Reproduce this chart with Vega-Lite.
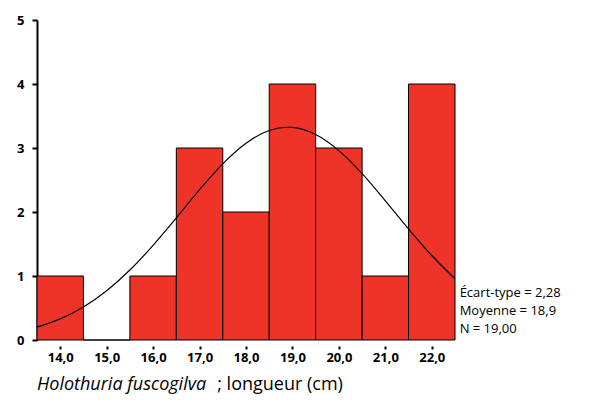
{
  "$schema": "https://vega.github.io/schema/vega-lite/v6.json",
  "width": 418,
  "height": 320,
  "autosize": "none",
  "padding": {"left": 37, "top": 20, "right": 138, "bottom": 63},
  "background": "white",
  "config": {"view": {"stroke": null}, "font": "Open Sans"},
  "datasets": {
    "bins": [
      {"start": 13.5, "end": 14.5, "count": 1},
      {"start": 14.5, "end": 15.5, "count": 0},
      {"start": 15.5, "end": 16.5, "count": 1},
      {"start": 16.5, "end": 17.5, "count": 3},
      {"start": 17.5, "end": 18.5, "count": 2},
      {"start": 18.5, "end": 19.5, "count": 4},
      {"start": 19.5, "end": 20.5, "count": 3},
      {"start": 20.5, "end": 21.5, "count": 1},
      {"start": 21.5, "end": 22.5, "count": 4}
    ],
    "curve": [
      {"x": 13.5, "y": 0.201}, {"x": 14, "y": 0.330}, {"x": 14.5, "y": 0.516},
      {"x": 15, "y": 0.770}, {"x": 15.5, "y": 1.093}, {"x": 16, "y": 1.480},
      {"x": 16.5, "y": 1.910}, {"x": 17, "y": 2.349}, {"x": 17.5, "y": 2.753},
      {"x": 18, "y": 3.075}, {"x": 18.5, "y": 3.273}, {"x": 18.9, "y": 3.324},
      {"x": 19, "y": 3.321}, {"x": 19.5, "y": 3.211}, {"x": 20, "y": 2.959},
      {"x": 20.5, "y": 2.599}, {"x": 21, "y": 2.175}, {"x": 21.5, "y": 1.735},
      {"x": 22, "y": 1.320}, {"x": 22.5, "y": 0.956}
    ],
    "stats": [
      {"x": 22.6, "y": 0.73, "t": "Écart-type = 2,28"},
      {"x": 22.6, "y": 0.45, "t": "Moyenne = 18,9"},
      {"x": 22.6, "y": 0.17, "t": "N = 19,00"}
    ],
    "species": [{"x": 13.5, "y": -0.7, "t": "Holothuria fuscogilva"}],
    "unit": [{"x": 17.38, "y": -0.7, "t": "; longueur (cm)"}]
  },
  "layer": [
    {
      "data": {"name": "bins"},
      "mark": {"type": "bar", "fill": "#EE3328", "stroke": "black", "strokeWidth": 1},
      "encoding": {
        "x": {
          "field": "start", "type": "quantitative",
          "scale": {"domain": [13.5, 22.5], "nice": false, "zero": false},
          "axis": {
            "values": [14, 15, 16, 17, 18, 19, 20, 21, 22],
            "labelExpr": "replace(format(datum.value, '.1f'), '.', ',')",
            "title": null, "grid": false, "domain": false,
            "tickColor": "black", "tickSize": 3, "tickWidth": 2, "offset": 6,
            "labelFontSize": 13, "labelFontWeight": "bold", "labelColor": "black"
          }
        },
        "x2": {"field": "end"},
        "y": {
          "field": "count", "type": "quantitative",
          "scale": {"domain": [0, 5], "nice": false},
          "axis": {
            "values": [0, 1, 2, 3, 4, 5], "format": "d", "title": null, "grid": false,
            "domainColor": "black", "domainWidth": 2, "tickColor": "black",
            "tickSize": 5, "tickWidth": 2, "labelFontSize": 13,
            "labelFontWeight": "bold", "labelColor": "black", "labelPadding": 8
          }
        },
        "y2": {"datum": 0}
      }
    },
    {
      "data": {"name": "curve"},
      "mark": {"type": "line", "color": "black", "strokeWidth": 1.2, "interpolate": "monotone"},
      "encoding": {
        "x": {"field": "x", "type": "quantitative"},
        "y": {"field": "y", "type": "quantitative"}
      }
    },
    {
      "data": {"name": "stats"},
      "mark": {"type": "text", "align": "left", "baseline": "middle", "fontSize": 13, "clip": false, "color": "black"},
      "encoding": {
        "x": {"field": "x", "type": "quantitative"},
        "y": {"field": "y", "type": "quantitative"},
        "text": {"field": "t"}
      }
    },
    {
      "data": {"name": "species"},
      "mark": {"type": "text", "align": "left", "baseline": "middle", "fontSize": 18, "fontStyle": "italic", "clip": false, "color": "black"},
      "encoding": {
        "x": {"field": "x", "type": "quantitative"},
        "y": {"field": "y", "type": "quantitative"},
        "text": {"field": "t"}
      }
    },
    {
      "data": {"name": "unit"},
      "mark": {"type": "text", "align": "left", "baseline": "middle", "fontSize": 18, "clip": false, "color": "black"},
      "encoding": {
        "x": {"field": "x", "type": "quantitative"},
        "y": {"field": "y", "type": "quantitative"},
        "text": {"field": "t"}
      }
    }
  ]
}
